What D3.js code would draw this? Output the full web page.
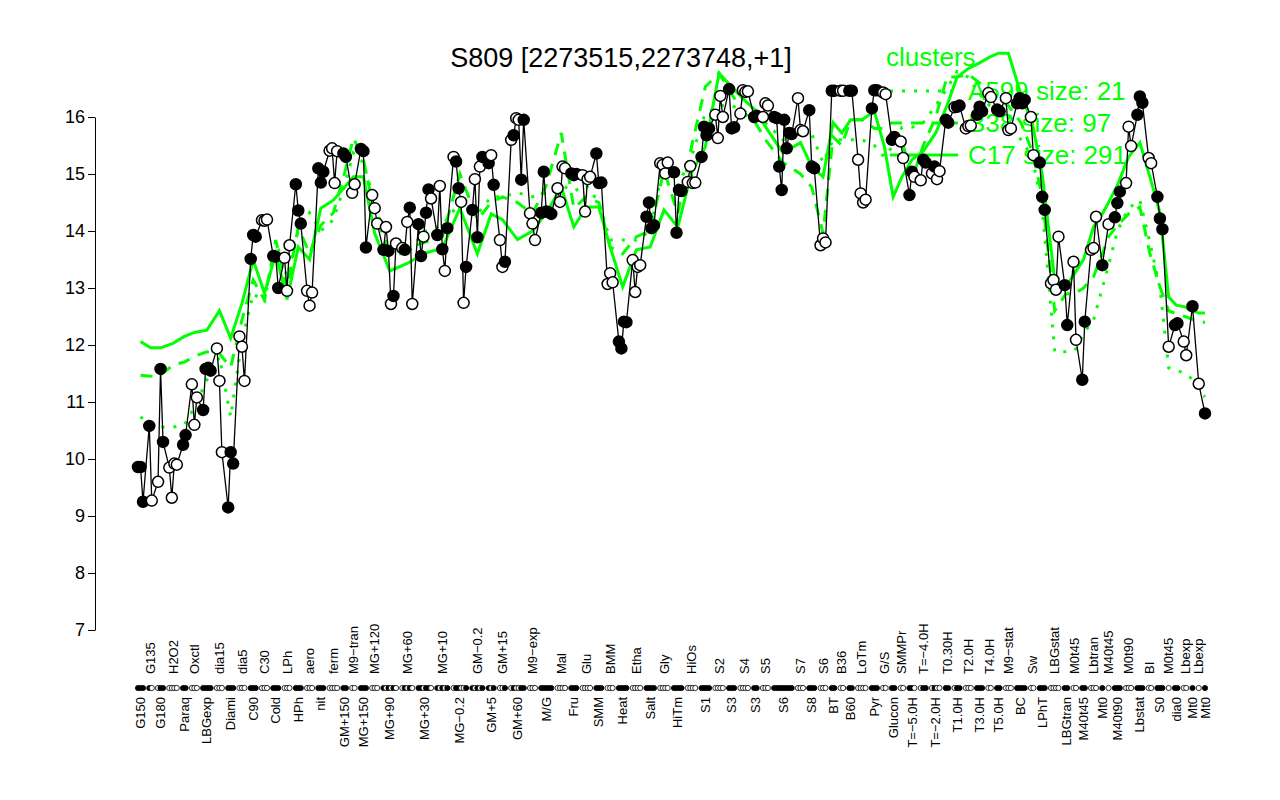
<!DOCTYPE html>
<html>
<head>
  <title>S809 [2273515,2273748,+1]</title>
  <meta charset="utf-8">
  <script src="https://d3js.org/d3.v7.min.js"></script>
  <style>
    body { margin: 0; background: #fff; }
    text { font-family: "Liberation Sans", Arial, Helvetica, sans-serif; }
  </style>
</head>
<body>
  <svg id="chart" width="1280" height="800"></svg>

  <script>
    // conditions, in plot order
    const groupLabels = [
      "G150", "G135", "G180", "H2O2", "Paraq", "Oxctl", "LBGexp", "dia15", "Diami", "dia5",
      "C90", "C30", "Cold", "LPh", "HPh", "aero", "nit", "ferm", "GM+150", "M9\u2212tran", "MG+150", "MG+120",
      "MG+90", "MG+60", "MG+30", "MG+10", "MG\u22120.2", "GM\u22120.2", "GM+5", "GM+15", "GM+60", "M9\u2212exp",
      "M/G", "Mal", "Fru", "Glu", "SMM", "BMM", "Heat", "Etha", "Salt", "Gly", "HiTm", "HiOs",
      "S1", "S2", "S3", "S4", "S3", "S5", "S6", "S7", "S8", "S6",
      "BT", "B36", "B60", "LoTm", "Pyr", "G/S", "Glucon", "SMMPr",
      "T=\u22125.0H", "T=\u22124.0H", "T=\u22122.0H", "T0.30H", "T1.0H", "T2.0H", "T3.0H", "T4.0H", "T5.0H",
      "M9\u2212stat", "BC", "Sw", "LPhT", "LBGstat", "LBGtran", "M0t45", "M40t45", "Lbtran", "Mt0", "M40t45",
      "M40t90", "M0t90", "Lbstat", "BI", "S0", "M0t45", "dia0", "Lbexp", "Mt0", "Lbexp", "Mt0"
    ];

    // expression of each replicate
    const groupValues = [
      [9.86, 9.86, 9.25], [10.58, 9.27], [9.6, 11.58, 10.3], [9.85, 9.32, 9.92, 9.9], [10.25, 10.42],
      [11.31, 10.6, 11.08], [10.86, 11.58, 11.6, 11.55], [11.94, 11.37, 10.12], [9.15, 10.12, 9.92], [12.15, 11.97, 11.37],
      [13.51, 13.93, 13.9], [14.19, 14.18, 14.2], [13.56, 13.55, 13.0], [13.53, 12.95, 13.75], [14.82, 14.36, 14.13],
      [12.95, 12.69, 12.92], [15.1, 14.85, 15.04], [15.41, 15.45, 14.84, 15.4], [15.36, 15.3], [14.67, 14.82],
      [15.44, 15.4, 13.71], [14.63, 14.4, 14.13],
      [13.67, 14.07, 13.65, 12.72, 12.86, 13.78], [13.7, 13.67, 14.16, 14.41, 12.72], [14.12, 13.56, 13.9, 14.32, 14.73, 14.57],
      [13.93, 14.79, 13.68, 13.3, 14.05], [15.3, 15.22, 14.75, 14.51, 12.74, 13.37], [14.37, 14.91, 13.89, 15.13, 15.3],
      [15.19, 15.33, 14.81], [13.84, 13.37, 13.46], [15.6, 15.68, 15.98, 15.95, 14.9, 15.95], [14.31, 14.13, 13.84],
      [14.32, 15.04, 14.34, 14.33, 14.3], [14.75, 14.51, 15.13, 15.1], [15.01, 14.98, 15.0], [14.98, 14.34, 14.91, 14.95],
      [15.36, 14.84, 14.85], [13.07, 13.26, 13.1], [12.06, 11.94, 12.41, 12.4], [13.49, 12.93, 13.37, 13.4],
      [14.25, 14.5, 14.05, 14.1], [15.19, 15.16, 15.01, 15.2], [15.03, 13.97, 14.72, 14.7], [14.86, 15.14, 14.84, 14.85],
      [15.3, 15.83, 15.68, 15.8], [16.04, 15.63, 16.37, 16.0], [16.49, 15.8, 15.82], [16.06, 16.47, 16.44, 16.45],
      [16.0, 16.02], [16.0, 16.24, 16.2], [16.0, 15.98, 15.13, 14.72, 15.95, 15.45, 15.72, 15.7], [16.33, 15.77, 15.75],
      [16.12, 15.13, 15.1], [13.75, 13.87, 13.8],
      [16.46, 16.46], [16.46, 16.46], [16.46, 16.46], [15.25, 14.66, 14.5, 14.55], [16.15, 16.47, 16.47], [16.43, 16.4],
      [15.6, 15.65], [15.57, 15.28],
      [14.63, 15.04, 14.95], [14.89, 15.25, 15.2], [15.01, 15.13, 14.91, 15.05], [15.95, 15.9], [16.17, 16.18, 16.2],
      [15.8, 15.84, 15.85], [16.04, 16.18, 16.1], [16.42, 16.35], [16.13, 16.1],
      [16.33, 15.77, 15.8], [16.24, 16.33, 16.24, 16.3], [16.0, 15.33], [15.2, 14.6, 14.37], [13.08, 13.14, 12.97, 13.9],
      [13.05, 12.35], [13.46, 12.09], [11.39, 12.41], [13.67, 13.7, 14.25], [13.4], [14.12],
      [14.24, 14.49, 14.69], [14.84, 15.83, 15.49], [16.04, 16.36, 16.25], [15.28, 15.19], [14.6, 14.22, 14.03],
      [11.97], [12.35, 12.38], [12.06, 11.82], [12.68], [11.32], [10.8]
    ];

    // 1 = filled point, 0 = open point
    const groupFilled = [
      "111", "10", "011", "0000", "11", "000", "1111", "000", "111", "000",
      "111", "000", "111", "000", "111", "000", "111", "0000", "11", "00", "111", "000",
      "101010", "01010", "110110", "10101", "011001", "10101", "101", "001", "010011", "000",
      "11111", "0000", "111", "0000", "111", "000", "1111", "0000", "1111", "0000", "1111", "0000",
      "1111", "0000", "111", "0000", "11", "000", "11111111", "000", "111", "000",
      "11", "00", "11", "0000", "111", "00", "11", "00",
      "110", "011", "0100", "11", "011", "000", "111", "00", "11",
      "000", "1111", "00", "111", "0000", "11", "00", "11", "000", "1", "0",
      "111", "000", "111", "00", "111", "0", "11", "00", "1", "0", "1"
    ];

    // cluster mean profiles, one value per condition
    const clusterA = [
      10.74, 10.6, 10.56, 10.56, 10.6, 10.9, 11.39, 11.79, 10.74, 12.09, 12.9, 12.75, 13.84, 13.2, 14.0, 14.32, 14.0, 14.2, 14.8, 15.37, 15.2, 14.5,
      13.6, 13.6, 14.0, 14.1, 14.5, 14.3, 14.6, 14.6, 14.67, 14.6,
      14.67, 14.8, 14.7, 14.8, 14.5, 13.84, 13.84, 13.84, 14.0, 15.25, 14.8, 15.3, 16.07, 16.2, 16.2, 16.1, 16.0, 15.9, 15.6, 15.8, 15.7, 15.2,
      15.6, 15.6, 15.6, 15.6, 15.5, 15.3, 15.5, 15.82, 15.82, 15.9, 16.2, 16.5, 16.8, 16.7, 16.4, 16.2, 16.1,
      16.0, 15.6, 15.3, 14.42, 11.88, 11.88, 11.9, 12.2, 12.44, 13.0, 13.4, 14.0, 14.4, 14.54, 13.8, 13.0, 11.6, 11.56, 11.5, 11.4, 11.2, 11.09
    ];
    const clusterB = [
      11.47, 11.45, 11.47, 11.65, 11.7, 11.8, 11.88, 11.85, 11.61, 12.44, 13.14, 12.79, 13.84, 13.0, 14.07, 13.6, 14.1, 14.32, 15.02, 15.63, 15.25, 14.32,
      13.61, 13.7, 13.8, 13.9, 15.0, 14.2, 14.5, 14.6, 14.5, 14.3,
      14.8, 15.72, 14.4, 14.6, 14.5, 13.72, 13.6, 13.9, 14.0, 15.07, 14.3, 15.48, 16.53, 16.77, 16.4, 16.07, 15.9, 15.6, 15.2, 15.0, 14.77, 13.96,
      15.65, 15.5, 15.95, 15.95, 15.8, 15.8, 15.7, 15.6, 14.9, 15.5, 16.0, 16.7, 16.7, 16.75, 16.6, 16.4, 16.3,
      16.2, 15.9, 15.4, 14.6, 12.6, 12.9, 12.9, 13.0, 13.2, 13.6, 13.9, 14.1, 14.3, 14.42, 13.6, 13.02, 12.6, 12.55, 12.5, 12.45, 12.4, 12.4
    ];
    const clusterC = [
      12.06, 11.95, 11.95, 12.03, 12.15, 12.22, 12.26, 12.6, 12.12, 12.73, 13.49, 12.91, 13.6, 12.8, 13.72, 13.5, 14.4, 14.54, 14.77, 14.95, 14.95, 13.96,
      13.3, 13.43, 13.61, 13.7, 14.4, 13.6, 14.3, 14.2, 13.85, 14.0,
      14.32, 14.77, 14.07, 14.42, 14.42, 13.72, 13.02, 13.67, 13.72, 14.37, 14.07, 15.02, 15.48, 16.77, 16.53, 16.3, 16.12, 15.83, 15.37, 15.55, 15.13, 14.95,
      15.9, 15.72, 15.95, 15.95, 16.1, 15.48, 14.6, 14.95, 15.25, 15.4, 15.72, 16.2, 16.7, 16.85, 16.95, 17.05, 17.12,
      17.12, 16.4, 15.9, 15.0, 13.14, 13.02, 13.26, 13.5, 14.07, 14.3, 14.5, 14.8, 15.3, 15.55, 14.95, 14.32, 12.84, 12.7, 12.67, 12.6, 12.56, 12.56
    ];
    const legendLabels = ["A599 size: 21", "B38 size: 97", "C17 size: 291"];
    const yTicks = [7, 8, 9, 10, 11, 12, 13, 14, 15, 16];

    const svg = d3.select("#chart");
    const green = "#00ff00";
    const gap = 1.5;

    // lay the replicates out side by side, with a small gap between conditions
    const points = [];
    const groups = [];
    let slot = 0;
    groupValues.forEach((vals, gi) => {
      if (gi > 0) slot += gap;
      const start = slot;
      vals.forEach((v, j) => {
        points.push({ slot: slot, value: v, filled: groupFilled[gi][j] === "1" });
        slot += 1;
      });
      groups.push({ label: groupLabels[gi], center: (start + slot - 1) / 2, i: gi });
    });
    const lastSlot = slot - 1;

    const x = d3.scaleLinear().domain([0, lastSlot]).range([138, 1205]);
    const y = d3.scaleLinear().domain([7, 16]).range([630, 117]);

    // title
    svg.append("text")
      .attr("x", 621).attr("y", 67)
      .attr("text-anchor", "middle")
      .style("font-size", "27px")
      .text("S809 [2273515,2273748,+1]");

    // y axis
    const yAxis = svg.append("g")
      .attr("transform", "translate(95,0)")
      .call(d3.axisLeft(y).tickValues(yTicks).tickSize(7).tickSizeOuter(0).tickPadding(3));
    yAxis.selectAll("text").style("font-size", "18px").attr("fill", "#000");
    yAxis.selectAll("line, path").attr("stroke", "#000").attr("stroke-width", 1);

    // legend
    const dashes = ["3,9", "12,9", null];
    svg.append("text")
      .attr("x", 886).attr("y", 66)
      .attr("fill", green)
      .style("font-size", "26px")
      .text("clusters");
    legendLabels.forEach((lab, i) => {
      const ly = 91 + i * 32;
      svg.append("line")
        .attr("x1", 890).attr("x2", 958)
        .attr("y1", ly).attr("y2", ly)
        .attr("stroke", green).attr("stroke-width", 3)
        .attr("stroke-dasharray", dashes[i]);
      svg.append("text")
        .attr("x", 968).attr("y", ly)
        .attr("dy", "0.35em")
        .attr("fill", green)
        .style("font-size", "26px")
        .text(lab);
    });

    // cluster profiles
    [clusterA, clusterB, clusterC].forEach((series, k) => {
      const line = d3.line()
        .x(d => x(d.center))
        .y(d => y(series[d.i]));
      svg.append("path")
        .datum(groups)
        .attr("d", line)
        .attr("fill", "none")
        .attr("stroke", green)
        .attr("stroke-width", 3)
        .attr("stroke-dasharray", dashes[k]);
    });

    // gene profile
    const geneLine = d3.line()
      .x(d => x(d.slot))
      .y(d => y(d.value));
    svg.append("path")
      .datum(points)
      .attr("d", geneLine)
      .attr("fill", "none")
      .attr("stroke", "#000")
      .attr("stroke-width", 1.3);

    svg.append("g")
      .selectAll("circle")
      .data(points)
      .enter()
      .append("circle")
      .attr("cx", d => x(d.slot))
      .attr("cy", d => y(d.value))
      .attr("r", 5.5)
      .attr("fill", d => d.filled ? "#000" : "#fff")
      .attr("stroke", "#000")
      .attr("stroke-width", 1.5);

    // condition strip
    svg.append("g")
      .selectAll("circle")
      .data(points)
      .enter()
      .append("circle")
      .attr("cx", d => x(d.slot))
      .attr("cy", 688)
      .attr("r", 2.6)
      .attr("fill", d => d.filled ? "#000" : "#fff")
      .attr("stroke", "#000")
      .attr("stroke-width", 0.8);

    svg.append("g")
      .selectAll("text")
      .data(groups)
      .enter()
      .append("text")
      .attr("transform", d => `translate(${x(d.center)},${d.i % 2 ? 674 : 697}) rotate(-90)`)
      .attr("text-anchor", d => d.i % 2 ? "start" : "end")
      .attr("dy", "0.35em")
      .style("font-size", "13px")
      .text(d => d.label);
  </script>
</body>
</html>
